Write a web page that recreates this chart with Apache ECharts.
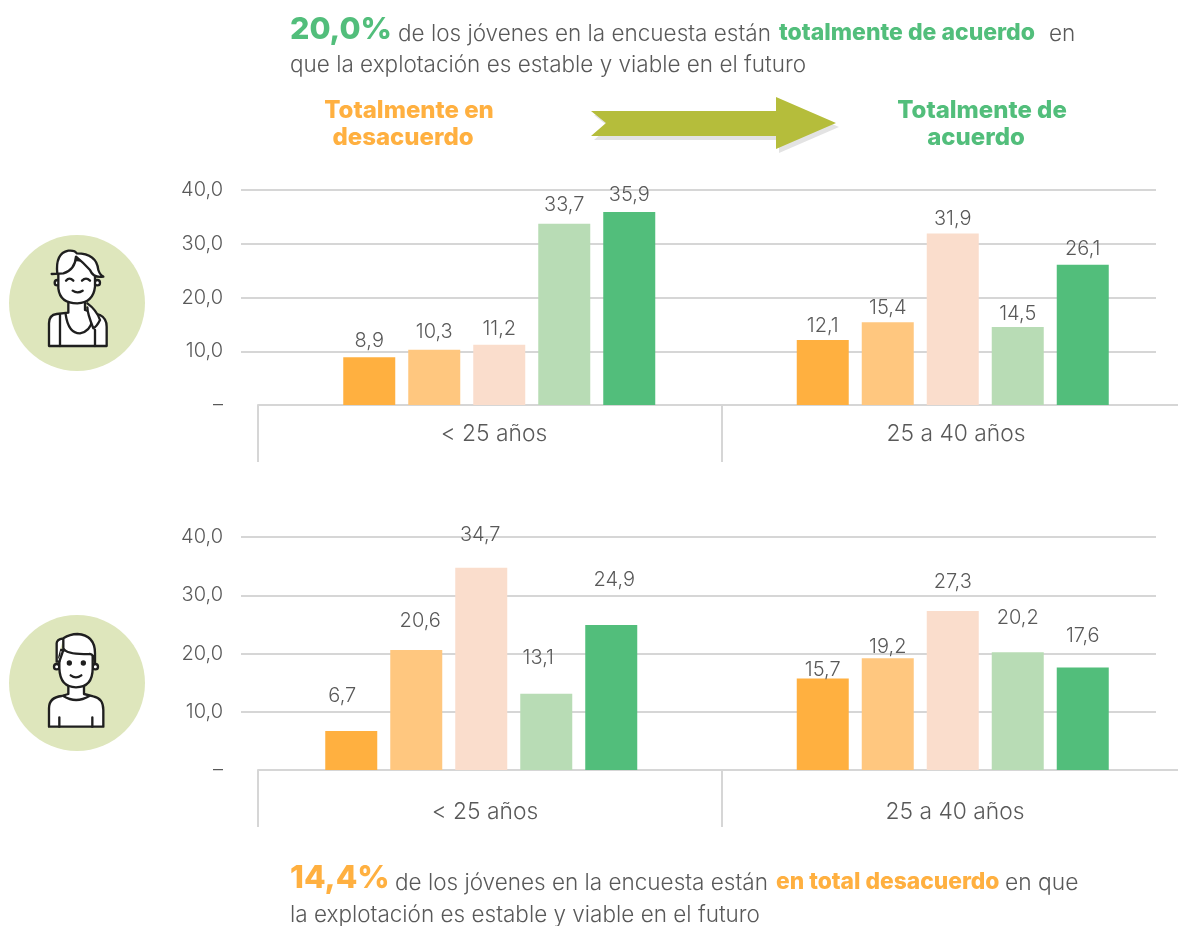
<!DOCTYPE html>
<html>
<head>
<meta charset="utf-8">
<style>html,body{margin:0;padding:0;background:#fff}#chart{width:1178px;height:926px}</style>
<script src="https://cdn.jsdelivr.net/npm/echarts@6/dist/echarts.min.js"></script>
</head>
<body>
<div id="chart"></div>
<script>
const FONT = 'Inter';
const ageGroups = ['< 25 años', '25 a 40 años'];
const levels = ['Totalmente en desacuerdo', 'En desacuerdo', 'Neutral', 'De acuerdo', 'Totalmente de acuerdo'];
const colors = ['#FFB040', '#FFC77F', '#FADDCC', '#B8DCB5', '#52BE7B'];

// mujeres, one list per answer level: [< 25, 25 a 40]
const women1 = [8.9, 12.1];
const women2 = [10.3, 15.4];
const women3 = [11.2, 31.9];
const women4 = [33.7, 14.5];
const women5 = [35.9, 26.1];
// hombres
const men1 = [6.7, 15.7];
const men2 = [20.6, 19.2];
const men3 = [34.7, 27.3];
const men4 = [13.1, 20.2];
const men5 = [24.9, 17.6];

// label lifts, the labels float at uneven heights in the original
const womenLift = [[6, 4], [8, 4], [6, 5], [9, 3], [7, 6]];
const menLift = [[25, -1], [19, 1], [23, 19], [26, 24], [35, 21]];
// and some of the men's labels sit off centre
const menNudge = [[-9, 0], [4, 0], [-1, 0], [-8, 0], [3, 0]];

const fmt = (v) => (v === 0 ? '–' : v.toFixed(1).replace('.', ','));

const gridColor = '#D6D6D6';
const textColor = '#595959';

const grids = [];
const xAxes = [];
const yAxes = [];
const series = [];

function panel(top, bottom, barLeft, barBand, values, lifts, nudges, labelMargin, labelShift) {
  const height = bottom - top;
  const first = grids.length;
  // 0: gridlines and y labels, 1: bars, 2: the category axis with its long ticks
  grids.push({ left: 241, width: 915, top, height, outerBoundsMode: 'none' });
  grids.push({ left: barLeft, width: barBand * 2, top, height, outerBoundsMode: 'none' });
  grids.push({ left: 258, width: 928, top, height, outerBoundsMode: 'none' });

  const yBase = { type: 'value', min: 0, max: 40, interval: 10 };
  yAxes.push({
    ...yBase,
    gridIndex: first,
    axisLine: { show: false },
    axisTick: { show: false },
    axisLabel: { formatter: fmt, color: textColor, fontFamily: FONT, fontSize: 20, fontWeight: 300, margin: 18 },
    splitLine: { showMinLine: false, lineStyle: { color: gridColor, width: 2 } },
  });
  yAxes.push({ ...yBase, gridIndex: first + 1, show: false });
  yAxes.push({ ...yBase, gridIndex: first + 2, show: false });

  xAxes.push({ type: 'category', gridIndex: first, data: ageGroups, show: false });
  xAxes.push({ type: 'category', gridIndex: first + 1, data: ageGroups, show: false });
  xAxes.push({
    type: 'category',
    gridIndex: first + 2,
    data: ageGroups.map((g, i) => ({
      value: g,
      textStyle: { padding: labelShift[i] > 0 ? [0, 0, 0, labelShift[i] * 2] : [0, -labelShift[i] * 2, 0, 0] },
    })),
    axisLine: { lineStyle: { color: gridColor, width: 2 } },
    axisTick: { show: true, length: 57, lineStyle: { color: gridColor, width: 2 } },
    axisLabel: { color: textColor, fontFamily: FONT, fontSize: 22.8, fontWeight: 300, margin: labelMargin },
  });

  values.forEach((vals, i) => {
    series.push({
      name: levels[i],
      type: 'bar',
      xAxisIndex: first + 1,
      yAxisIndex: first + 1,
      barWidth: 52,
      barGap: '25%',
      z: 3,
      itemStyle: { color: colors[i] },
      label: { show: true, position: 'top', formatter: (p) => fmt(p.value), color: textColor, fontFamily: FONT, fontSize: 20, fontWeight: 300 },
      data: vals.map((v, k) => ({
        value: v,
        label: { distance: lifts[i][k], offset: [nudges ? nudges[i][k] : 0, 0] },
      })),
    });
  });
}

panel(190, 405, 272.5, 453.5, [women1, women2, women3, women4, women5], womenLift, null, 18, [4, 2]);
panel(537, 770, 245.5, 471.5, [men1, men2, men3, men4, men5], menLift, menNudge, 31, [-5, 1]);

const t = (text, x, y, color, size, weight, align) => ({
  type: 'text',
  x,
  y,
  style: { text, fill: color, font: `${weight} ${size}px ${FONT}`, align: align || 'left', verticalAlign: 'middle' },
});

const ink = { stroke: '#1F1F1F', fill: 'none', lineWidth: 7, lineCap: 'round', lineJoin: 'round' };
const inkPath = (d, fill) => ({ type: 'path', shape: { pathData: d }, style: { ...ink, fill: fill || 'none' } });
const ring = (cx, cy, r, fill) => ({ type: 'circle', shape: { cx, cy, r }, style: { ...ink, fill: fill || '#fff' } });

const womanIcon = {
  type: 'group',
  x: 0,
  y: 220,
  scaleX: 1 / 3,
  scaleY: 1 / 3,
  children: [
    inkPath('M147 378 V310 Q147 285 170 282 L205 278 V240 H255 V270 L300 285 Q320 295 320 320 V378 Z', '#fff'),
    inkPath('M197 283 Q205 340 240 340 Q270 335 277 300'),
    inkPath('M180 285 V378 M285 330 V378'),
    ring(172, 188, 8),
    ring(292, 188, 8),
    inkPath('M175 150 V205 Q180 250 232 250 Q280 248 285 200 V150 Q232 90 175 150 Z', '#fff'),
    inkPath('M172 162 Q165 100 205 92 Q225 90 230 100 Q290 100 295 150 Q300 165 310 170 Q280 175 270 150 Q250 128 228 110 Q225 150 190 160 L155 162', '#fff'),
    inkPath('M262 250 Q290 270 300 300 Q290 320 280 325 Q262 280 262 262', '#fff'),
    inkPath('M198 182 Q208 170 220 182 M246 182 Q258 170 270 182 M218 212 Q232 222 248 212'),
  ],
};

const manIcon = {
  type: 'group',
  x: 0,
  y: 600,
  scaleX: 1 / 3,
  scaleY: 1 / 3,
  children: [
    inkPath('M147 380 V325 Q147 292 185 288 L205 282 V250 H252 V282 L280 289 Q310 295 310 330 V380 Z', '#fff'),
    inkPath('M190 288 Q228 312 268 288'),
    inkPath('M178 352 V380 M277 352 V380'),
    ring(170, 200, 8),
    ring(286, 200, 8),
    inkPath('M178 150 V205 Q180 262 228 262 Q278 262 278 205 V150 Z', '#fff'),
    inkPath('M170 185 V130 Q170 118 190 115 Q210 102 232 102 Q285 105 285 160 V190 Q282 160 268 162 Q200 165 190 145 V115 M190 150 L178 185 L170 185', '#fff'),
    { type: 'circle', shape: { cx: 208, cy: 189, r: 8 }, style: { fill: '#1F1F1F' } },
    { type: 'circle', shape: { cx: 250, cy: 189, r: 8 }, style: { fill: '#1F1F1F' } },
    inkPath('M212 226 Q228 238 244 226'),
  ],
};

// the two portraits, custom series because graphic has no svg path element
series.push({
  type: 'custom',
  coordinateSystem: 'none',
  silent: true,
  z: 20,
  data: [0],
  renderItem: () => ({ type: 'group', children: [womanIcon, manIcon] }),
});

const arrowShape = [[591, 111], [776, 111], [776, 97], [836, 123], [776, 149], [776, 136], [591, 136], [606, 123]];

const graphics = [
  { type: 'circle', z: -1, shape: { cx: 77, cy: 303, r: 68 }, style: { fill: '#DEE6BC' } },
  { type: 'circle', z: -1, shape: { cx: 77, cy: 683, r: 68 }, style: { fill: '#DEE6BC' } },
  { type: 'polygon', x: 3, y: 4, shape: { points: arrowShape }, style: { fill: '#E3E3E3' } },
  { type: 'polygon', shape: { points: arrowShape }, style: { fill: '#B5BD3B' } },

  t('20,0%', 290, 30, '#52BE7B', 30.5, 800),
  t('de los jóvenes en la encuesta están', 398, 34, textColor, 22.5, 300),
  t('totalmente de acuerdo', 779, 33, '#52BE7B', 23, 800),
  t('en', 1049, 34, textColor, 22.5, 300),
  t('que la explotación es estable y viable en el futuro', 290, 65, textColor, 22.5, 300),

  t('Totalmente en', 409, 111, '#FFB040', 24, 800, 'center'),
  t('desacuerdo', 403, 138, '#FFB040', 24, 800, 'center'),
  t('Totalmente de', 982, 111, '#52BE7B', 24, 800, 'center'),
  t('acuerdo', 976, 138, '#52BE7B', 24, 800, 'center'),

  t('14,4%', 290, 879, '#FFB040', 31.5, 800),
  t('de los jóvenes en la encuesta están', 395, 883, textColor, 22.5, 300),
  t('en total desacuerdo', 776, 882, '#FFB040', 22.8, 800),
  t('en que', 1005, 883, textColor, 22.8, 300),
  t('la explotación es estable y viable en el futuro', 290, 915, textColor, 22.5, 300),
];

const chart = echarts.init(document.getElementById('chart'));
chart.setOption({
  animation: false,
  backgroundColor: '#fff',
  grid: grids,
  xAxis: xAxes,
  yAxis: yAxes,
  series,
  graphic: graphics,
});
</script>
</body>
</html>
